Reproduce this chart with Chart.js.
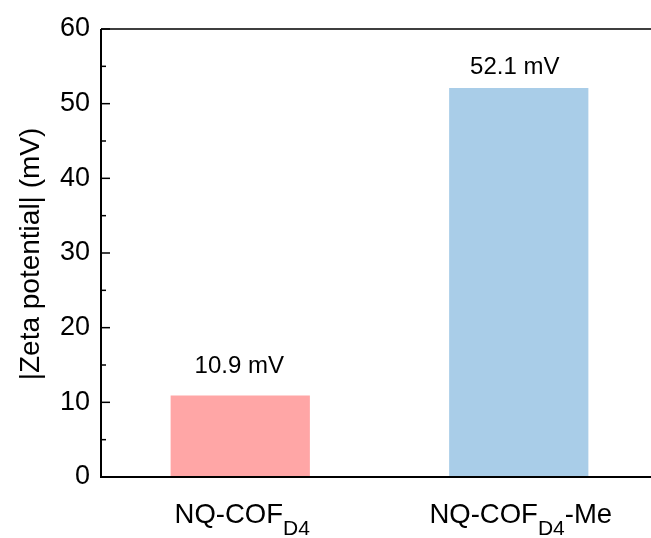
<!DOCTYPE html>
<html>
<head>
<meta charset="utf-8">
<script src="https://cdn.jsdelivr.net/npm/chart.js@4/dist/chart.umd.min.js"></script>
<style>
  html, body { margin: 0; padding: 0; background: #fff; overflow: hidden; }
  #wrap { width: 651px; height: 538px; overflow: hidden; }
  canvas { display: block; }
</style>
</head>
<body>
<div id="wrap"><canvas id="chart" width="660" height="538"></canvas></div>
<script>
// Sample names: base text, subscript, and trailing text
const categoryBase = ['NQ-COF', 'NQ-COF'];
const categorySub = ['D4', 'D4'];
const categorySuffix = ['', '-Me'];

// |Zeta potential| in mV
const zetaValues = [10.9, 52.1];

// Y axis ticks
const yMajorTicks = [0, 10, 20, 30, 40, 50, 60];
const yMinorTicks = [5, 15, 25, 35, 45, 55];

const barColors = ['#FFA6A6', '#A9CDE8'];
const FONT = '"Liberation Sans", Arial, Helvetica, sans-serif';

const categories = categoryBase.map((b, i) => b + categorySub[i] + categorySuffix[i]);

const framePlugin = {
  id: 'frame',
  afterDraw(chart) {
    const ctx = chart.ctx;
    const a = chart.chartArea;
    const y = chart.scales.y;
    const x = chart.scales.x;
    ctx.save();
    ctx.strokeStyle = '#000';

    // Axis frame
    ctx.lineWidth = 2;
    ctx.beginPath();
    ctx.moveTo(a.left, a.top);
    ctx.lineTo(a.left, a.bottom);
    ctx.lineTo(a.right, a.bottom);
    ctx.stroke();
    ctx.lineWidth = 1.5;
    ctx.beginPath();
    ctx.moveTo(a.left, a.top);
    ctx.lineTo(a.right, a.top);
    ctx.lineTo(a.right, a.bottom);
    ctx.stroke();

    // Inward ticks on the left axis
    ctx.lineWidth = 1.5;
    yMajorTicks.forEach(v => {
      const py = y.getPixelForValue(v);
      ctx.beginPath();
      ctx.moveTo(a.left, py);
      ctx.lineTo(a.left + 9, py);
      ctx.stroke();
    });
    yMinorTicks.forEach(v => {
      const py = y.getPixelForValue(v);
      ctx.beginPath();
      ctx.moveTo(a.left, py);
      ctx.lineTo(a.left + 5, py);
      ctx.stroke();
    });

    // Value labels above the bars
    const gaps = [23, 14];
    const shifts = [-1, -4];
    ctx.fillStyle = '#000';
    ctx.font = '24px ' + FONT;
    ctx.textAlign = 'center';
    ctx.textBaseline = 'alphabetic';
    const meta = chart.getDatasetMeta(0);
    zetaValues.forEach((v, i) => {
      const bar = meta.data[i];
      ctx.fillText(v.toFixed(1) + ' mV', bar.x + shifts[i], y.getPixelForValue(v) - gaps[i]);
    });

    // Category labels with subscripts
    ctx.textAlign = 'left';
    const mainFont = '27.5px ' + FONT;
    const subFont = '21px ' + FONT;
    const baseY = a.bottom + 46;
    const subY = baseY + 12;
    categories.forEach((c, i) => {
      const cx = x.getPixelForValue(i) + 2;
      ctx.font = mainFont;
      const wBase = ctx.measureText(categoryBase[i]).width;
      const wSuf = ctx.measureText(categorySuffix[i]).width;
      ctx.font = subFont;
      const wSub = ctx.measureText(categorySub[i]).width;
      let px = cx - (wBase + wSub + wSuf) / 2;
      ctx.font = mainFont;
      ctx.fillText(categoryBase[i], px, baseY);
      px += wBase;
      ctx.font = subFont;
      ctx.fillText(categorySub[i], px, subY);
      px += wSub;
      ctx.font = mainFont;
      ctx.fillText(categorySuffix[i], px, baseY);
    });

    // Y axis title
    ctx.font = '28px ' + FONT;
    ctx.textAlign = 'center';
    ctx.textBaseline = 'middle';
    ctx.translate(31, (a.top + a.bottom) / 2 + 1);
    ctx.rotate(-Math.PI / 2);
    ctx.fillText('|Zeta potential| (mV)', 0, 0);
    ctx.restore();
  }
};

new Chart(document.getElementById('chart'), {
  type: 'bar',
  data: {
    labels: categories,
    datasets: [{
      data: zetaValues,
      backgroundColor: barColors,
      borderWidth: 0,
      categoryPercentage: 1,
      barPercentage: 0.5
    }]
  },
  options: {
    responsive: false,
    animation: false,
    layout: { padding: { top: 29, right: 2, left: 0, bottom: 0 } },
    plugins: { legend: { display: false }, tooltip: { enabled: false } },
    scales: {
      x: {
        type: 'category',
        offset: true,
        grid: { display: false, drawTicks: false },
        border: { display: false },
        ticks: { display: false },
        afterFit(s) { s.height = 61; }
      },
      y: {
        min: 0,
        max: 60,
        grid: { display: false, drawTicks: false },
        border: { display: false },
        ticks: {
          stepSize: 10,
          padding: 11,
          color: '#000',
          font: { family: FONT, size: 27 }
        },
        afterFit(s) { s.width = 101; }
      }
    }
  },
  plugins: [framePlugin]
});
</script>
</body>
</html>
